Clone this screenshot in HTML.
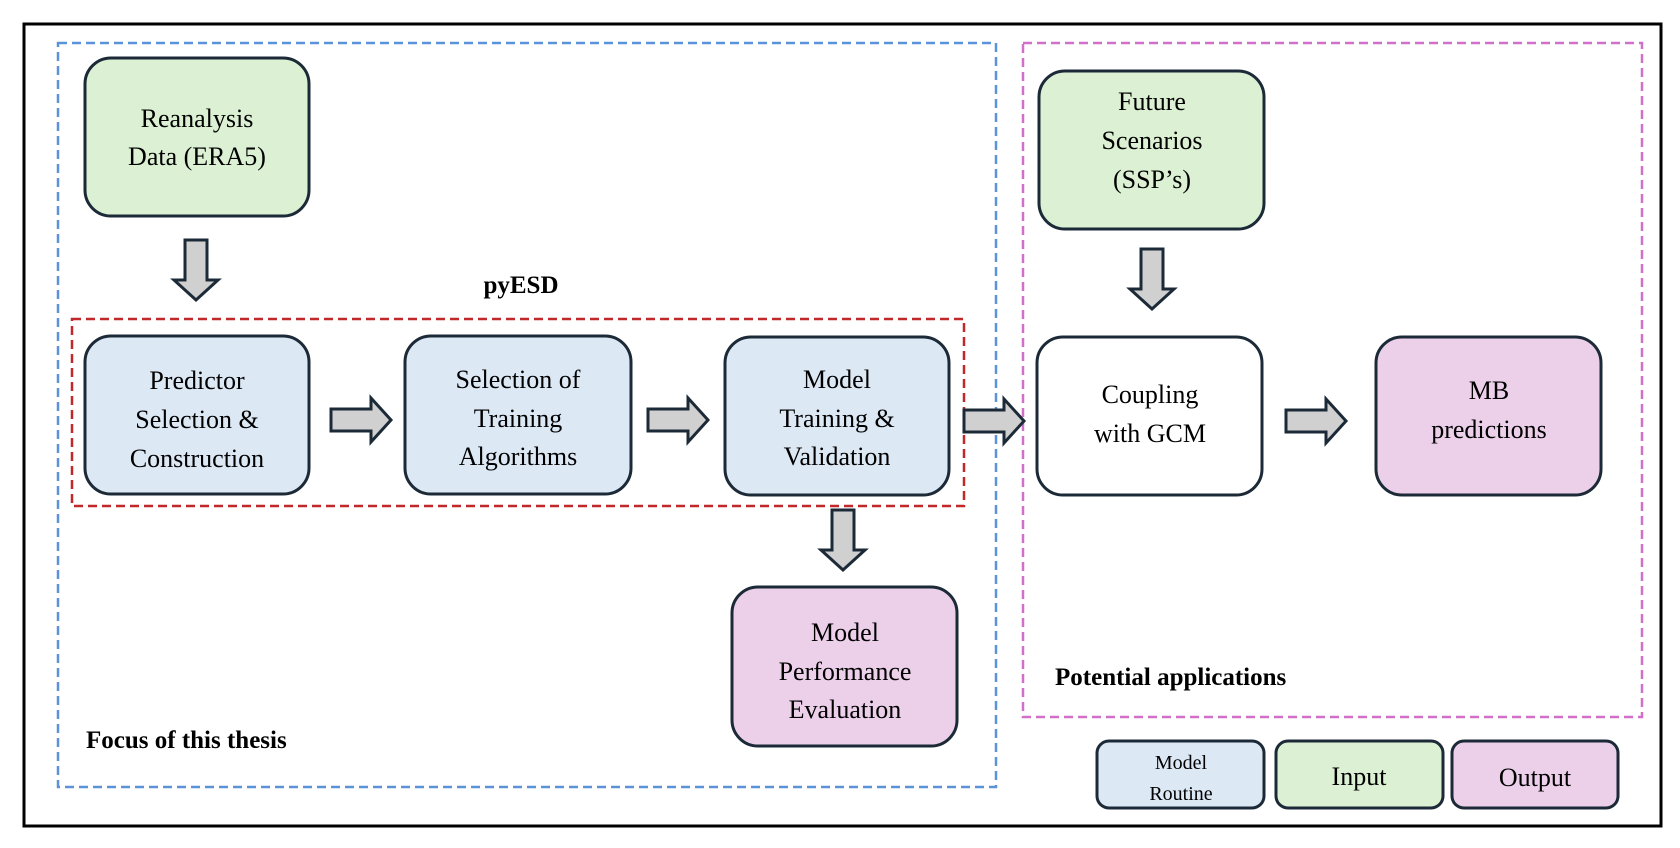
<!DOCTYPE html>
<html><head><meta charset="utf-8"><style>
html,body{margin:0;padding:0;background:#fff;}
svg{display:block;}
text{font-family:"Liberation Serif",serif;fill:#000;}
</style></head><body>
<svg width="1680" height="848" viewBox="0 0 1680 848" xmlns="http://www.w3.org/2000/svg">
<defs>
<g id="ra"><polygon points="0,-11 40,-11 40,-22 60,0 40,22 40,11 0,11" fill="#d0d0d0" stroke="#1c2a38" stroke-width="3" stroke-linejoin="miter"/></g>
</defs>
<rect x="24" y="24" width="1637" height="802" fill="#fff" stroke="#000" stroke-width="3"/>
<rect x="58" y="43" width="938" height="744" fill="none" stroke="#5b93d8" stroke-width="2.5" stroke-dasharray="9,5"/>
<rect x="1023" y="43" width="619" height="674" fill="none" stroke="#d070c8" stroke-width="2.5" stroke-dasharray="9,5"/>
<rect x="72" y="319" width="892" height="187" fill="none" stroke="#c0282a" stroke-width="2.5" stroke-dasharray="9,5"/>

<g stroke="#1c2a38" stroke-width="3">
<rect x="85" y="58" width="224" height="158" rx="26" fill="#dcf0d3"/>
<rect x="85" y="336" width="224" height="158" rx="26" fill="#dde8f5"/>
<rect x="405" y="336" width="226" height="158" rx="26" fill="#dde8f5"/>
<rect x="725" y="337" width="224" height="158" rx="26" fill="#dde8f5"/>
<rect x="732" y="587" width="225" height="159" rx="26" fill="#ecd0ea"/>
<rect x="1039" y="71" width="225" height="158" rx="26" fill="#dcf0d3"/>
<rect x="1037" y="337" width="225" height="158" rx="26" fill="#fff"/>
<rect x="1376" y="337" width="225" height="158" rx="26" fill="#ecd0ea"/>
<rect x="1097" y="741" width="167" height="67" rx="12" fill="#dde8f5"/>
<rect x="1276" y="741" width="167" height="67" rx="12" fill="#dcf0d3"/>
<rect x="1452" y="741" width="166" height="67" rx="12" fill="#ecd0ea"/>
</g>

<use href="#ra" transform="translate(331,420)"/>
<use href="#ra" transform="translate(648,420)"/>
<use href="#ra" transform="translate(964,421)"/>
<use href="#ra" transform="translate(1286,421)"/>
<use href="#ra" transform="translate(196,240) rotate(90)"/>
<use href="#ra" transform="translate(843,510) rotate(90)"/>
<use href="#ra" transform="translate(1152,249) rotate(90)"/>

<g font-size="26" text-anchor="middle">
<text x="197" y="127">Reanalysis</text>
<text x="197" y="165">Data (ERA5)</text>
<text x="197" y="389">Predictor</text>
<text x="197" y="428">Selection &amp;</text>
<text x="197" y="467">Construction</text>
<text x="518" y="388">Selection of</text>
<text x="518" y="427">Training</text>
<text x="518" y="465">Algorithms</text>
<text x="837" y="388">Model</text>
<text x="837" y="427">Training &amp;</text>
<text x="837" y="465">Validation</text>
<text x="845" y="641">Model</text>
<text x="845" y="680">Performance</text>
<text x="845" y="718">Evaluation</text>
<text x="1152" y="110">Future</text>
<text x="1152" y="149">Scenarios</text>
<text x="1152" y="188">(SSP’s)</text>
<text x="1150" y="403">Coupling</text>
<text x="1150" y="442">with GCM</text>
<text x="1489" y="399">MB</text>
<text x="1489" y="438">predictions</text>
<text x="1359" y="785">Input</text>
<text x="1535" y="786">Output</text>
</g>
<g font-size="20" text-anchor="middle">
<text x="1181" y="769">Model</text>
<text x="1181" y="800">Routine</text>
</g>
<g font-size="25" font-weight="bold">
<text x="521" y="293" text-anchor="middle">pyESD</text>
<text x="86" y="748">Focus of this thesis</text>
<text x="1055" y="685">Potential applications</text>
</g>
</svg>
</body></html>
